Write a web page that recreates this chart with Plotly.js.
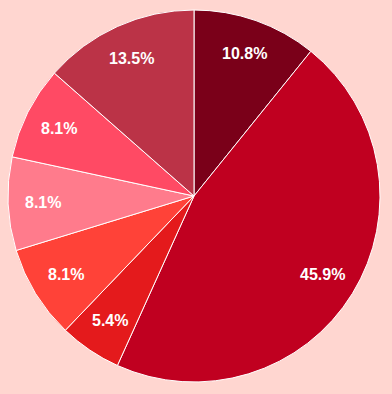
<!DOCTYPE html>
<html>
<head>
<meta charset="utf-8">
<script src="https://cdn.plot.ly/plotly-3.0.1.min.js"></script>
<style>html,body{margin:0;padding:0;background:#ffd6d0;}</style>
</head>
<body>
<div id="chart" style="width:392px;height:394px;"></div>
<script>
const labels = ["A", "B", "C", "D", "E", "F", "G"];
const values = [4, 17, 2, 3, 3, 3, 5];
const colors = ["#7a0019", "#c00020", "#e41a1c", "#ff4238", "#ff7b8c", "#ff4a64", "#bb3347"];

const total = values.reduce((a, b) => a + b, 0);
const labelRadius = 0.81; // fraction of pie radius
const annotations = [];
let cum = 0;
values.forEach((v, i) => {
  const mid = (cum + v / 2) / total * 2 * Math.PI;
  cum += v;
  annotations.push({
    xref: "paper", yref: "paper",
    x: 0.5 + 0.5 * labelRadius * Math.sin(mid),
    y: 0.5 + 0.5 * labelRadius * Math.cos(mid),
    text: (v / total * 100).toFixed(1) + "%",
    showarrow: false,
    xanchor: "center", yanchor: "middle",
    font: {family: "Liberation Sans, Arial, sans-serif", size: 16, color: "#ffffff", weight: "bold"}
  });
});

Plotly.newPlot("chart", [{
  type: "pie",
  labels: labels,
  values: values,
  sort: false,
  direction: "clockwise",
  rotation: 0,
  marker: {colors: colors, line: {color: "#ffffff", width: 1}},
  textinfo: "none",
  hoverinfo: "none"
}], {
  width: 392,
  height: 394,
  paper_bgcolor: "#ffd6d0",
  plot_bgcolor: "#ffd6d0",
  showlegend: false,
  margin: {l: 8, r: 12, t: 10, b: 12},
  annotations: annotations
}, {displayModeBar: false, staticPlot: true});
</script>
</body>
</html>
